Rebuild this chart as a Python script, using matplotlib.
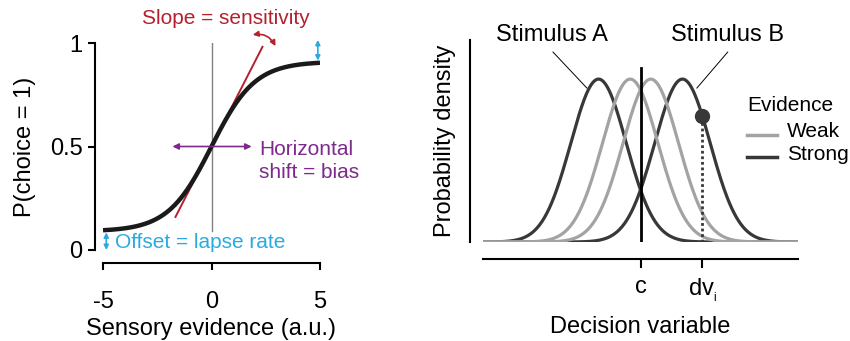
import numpy as np
import matplotlib.pyplot as plt

plt.rcParams['font.family'] = ['Liberation Sans', 'DejaVu Sans']
plt.rcParams['mathtext.default'] = 'regular'
plt.rcParams['axes.unicode_minus'] = False

# psychometric curve parameters
lapse_rate = 0.09
sensitivity = 1.0
bias = 0.0
evidence_ticks = [-5, 0, 5]
p_ticks = [0, 0.5, 1]
p_ticklabels = ['0', '0.5', '1']

# decision variable distributions (peak-normalised)
dv_sigma = 1.0
weak_means = [-0.37, 0.37]
strong_means = [-1.51, 1.51]
criterion = 0.0
dv_sample = 2.23
dv_ticklabels = ['c', 'dv$_{_{\\mathregular{i}}}$']
evidence_levels = ['Weak', 'Strong']

RED = '#b5202e'
PURPLE = '#7d2a8c'
BLUE = '#29abe2'
STRONG = '#383838'
WEAK = '#a3a3a3'

fig = plt.figure(figsize=(8.5, 3.41), dpi=100)

# ---- left: psychometric function ----
ax1 = fig.add_axes([103 / 850, 1 - 250 / 341, 217 / 850, 207 / 341])
x = np.linspace(-5, 5, 300)
p = lapse_rate + (1 - 2 * lapse_rate) / (1 + np.exp(-sensitivity * (x - bias)))
ax1.plot([0, 0], [lapse_rate, 1], color='#808080', lw=1.0, zorder=1)
ax1.plot(x, p, color='#1a1a1a', lw=3.2, solid_capstyle='butt', zorder=3)

# tangent at the midpoint
k = (1 - 2 * lapse_rate) * sensitivity / 4
xt = np.array([-1.66, 2.35])
ax1.plot(xt, 0.5 + k * (xt - bias), color=RED, lw=1.4, zorder=2, clip_on=False)
ax1.annotate('', xy=(2.95, 0.985), xytext=(1.9, 1.04),
             arrowprops=dict(arrowstyle='<|-|>', color=RED, lw=1.2,
                             mutation_scale=8, shrinkA=0, shrinkB=0,
                             connectionstyle='arc3,rad=-0.35'),
             annotation_clip=False)
ax1.text(0.65, 1.12, 'Slope = sensitivity', color=RED, fontsize=15,
         ha='center', va='center', clip_on=False)

# horizontal shift arrow
ax1.annotate('', xy=(1.85, 0.5), xytext=(-1.8, 0.5),
             arrowprops=dict(arrowstyle='<|-|>', color=PURPLE, lw=1.2,
                             mutation_scale=9, shrinkA=0, shrinkB=0))
ax1.text(2.2, 0.43, 'Horizontal\nshift = bias', color=PURPLE, fontsize=15,
         ha='left', va='center', linespacing=1.3)

# lapse arrows
for xa, y0, y1 in [(-4.85, 0.0, 0.085), (4.9, 0.915, 1.015)]:
    ax1.annotate('', xy=(xa, y1), xytext=(xa, y0),
                 arrowprops=dict(arrowstyle='<|-|>', color=BLUE, lw=1.2,
                                 mutation_scale=7, shrinkA=0, shrinkB=0),
                 annotation_clip=False)
ax1.text(-4.45, 0.035, 'Offset = lapse rate', color=BLUE, fontsize=15,
         ha='left', va='center')

ax1.set_xlim(-5, 5)
ax1.set_ylim(0, 1)
ax1.set_xticks(evidence_ticks)
ax1.set_yticks(p_ticks)
ax1.set_yticklabels(p_ticklabels)
for s in ['top', 'right']:
    ax1.spines[s].set_visible(False)
ax1.spines['left'].set_position(('outward', 5.8))
ax1.spines['bottom'].set_position(('outward', 9.4))
for s in ['left', 'bottom']:
    ax1.spines[s].set_linewidth(1.5)
ax1.tick_params(direction='out', length=5, width=1.5, labelsize=17)
ax1.tick_params(axis='x', pad=15)
ax1.tick_params(axis='y', pad=4)
ax1.set_xlabel('Sensory evidence (a.u.)', fontsize=17, labelpad=4)
ax1.set_ylabel('P(choice = 1)', fontsize=17, labelpad=10)

# ---- right: signal detection picture ----
ax2 = fig.add_axes([483 / 850, 1 - 242 / 341, 315 / 850, 202 / 341])
xd = np.linspace(-5.67, 5.67, 400)
for m in strong_means:
    ax2.plot(xd, np.exp(-(xd - m) ** 2 / (2 * dv_sigma ** 2)), color=STRONG,
             lw=2.3, zorder=2)
for m in weak_means:
    ax2.plot(xd, np.exp(-(xd - m) ** 2 / (2 * dv_sigma ** 2)), color=WEAK,
             lw=2.3, zorder=3)
ax2.plot([criterion, criterion], [0, 1.07], color='black', lw=2.0, zorder=4)
dv_height = np.exp(-(dv_sample - strong_means[1]) ** 2 / (2 * dv_sigma ** 2))
ax2.plot([dv_sample, dv_sample], [0, dv_height], color=STRONG, lw=2.0,
         ls=(0, (1, 1)), zorder=4)
ax2.plot(dv_sample, dv_height, 'o', color=STRONG, ms=10, zorder=5)

ax2.text(-3.2, 1.27, 'Stimulus A', fontsize=17, ha='center', va='center')
ax2.text(3.14, 1.27, 'Stimulus B', fontsize=17, ha='center', va='center')
ax2.plot([-3.15, -1.93], [1.166, 0.945], color='black', lw=0.7, clip_on=False)
ax2.plot([3.14, 2.03], [1.166, 0.945], color='black', lw=0.7, clip_on=False)

# legend
ax2.text(3.85, 0.84, 'Evidence', fontsize=15, ha='left', va='center')
for yl, col, lab in [(0.656, WEAK, evidence_levels[0]),
                     (0.52, STRONG, evidence_levels[1])]:
    ax2.plot([3.85, 4.93], [yl, yl], color=col, lw=2.5, clip_on=False)
    ax2.text(5.26, yl + 0.02, lab, fontsize=15, ha='left', va='center')

ax2.set_xlim(-5.67, 5.67)
ax2.set_ylim(0, 1.24)
ax2.set_xticks([criterion, dv_sample])
ax2.set_xticklabels(dv_ticklabels)
ax2.set_yticks([])
for s in ['top', 'right']:
    ax2.spines[s].set_visible(False)
ax2.spines['left'].set_position(('outward', 9.4))
ax2.spines['bottom'].set_position(('outward', 12.2))
for s in ['left', 'bottom']:
    ax2.spines[s].set_linewidth(1.5)
ax2.tick_params(axis='x', direction='out', length=6.5, width=1.5,
                labelsize=17, pad=6)
ax2.set_xlabel('Decision variable', fontsize=17, labelpad=9)
ax2.set_ylabel('Probability density', fontsize=17, labelpad=10)

fig.savefig('out.png', dpi=100)
